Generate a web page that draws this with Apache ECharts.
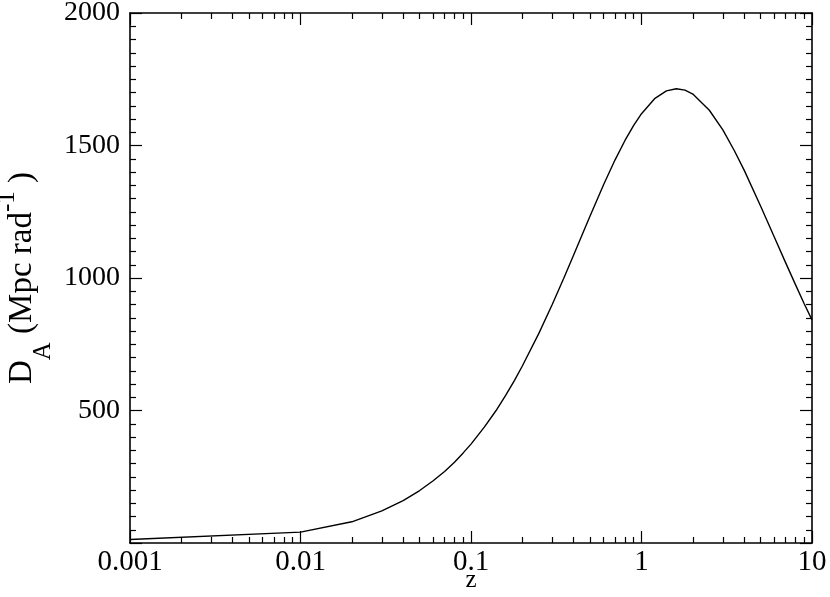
<!DOCTYPE html>
<html>
<head>
<meta charset="utf-8">
<script src="https://cdn.jsdelivr.net/npm/echarts@6/dist/echarts.min.js"></script>
<style>html,body{margin:0;padding:0;background:#fff;}#c{width:830px;height:597px;}</style>
</head>
<body>
<div id="c"></div>
<script>
// redshift z
const zValues = [0.001, 0.01, 0.02, 0.03, 0.04, 0.05, 0.06, 0.07, 0.08, 0.09, 0.1,
  0.12, 0.14, 0.16, 0.18, 0.2, 0.25, 0.3, 0.35, 0.4, 0.45, 0.5, 0.6, 0.7, 0.8, 0.9, 1.0,
  1.2, 1.4, 1.6, 1.8, 2.0, 2.5, 3.0, 3.5, 4, 5, 6, 7, 8, 9, 10];
// angular diameter distance D_A (Mpc rad^-1)
const daValues = [13, 41, 80, 121, 160, 198, 235, 270, 305, 340, 373,
  438, 499, 558, 614, 668, 791, 901, 999, 1087, 1165, 1235, 1353, 1446, 1519, 1576, 1620,
  1678, 1706, 1714, 1709, 1694, 1633, 1559, 1481, 1407, 1271, 1156, 1058, 975, 903, 842];
const xMajorTicks = [0.001, 0.01, 0.1, 1, 10];
const xMinorTicks = [0.002,0.003,0.004,0.005,0.006,0.007,0.008,0.009,
  0.02,0.03,0.04,0.05,0.06,0.07,0.08,0.09,
  0.2,0.3,0.4,0.5,0.6,0.7,0.8,0.9,
  2,3,4,5,6,7,8,9];
const yLabelValues = [500, 1000, 1500, 2000];

const FONT = 'Liberation Serif';
const chart = echarts.init(document.getElementById('c'), null, {renderer: 'canvas'});

function xAxisDef(position, minor, showLine, showLabel) {
  return {
    type: 'log', logBase: 10, min: 0.001, max: 10, gridIndex: 0, position: position,
    axisLine: {show: showLine, onZero: false, lineStyle: {color: '#000', width: 1.6}},
    axisTick: {show: true, inside: true, length: minor ? 6 : 12,
      customValues: minor ? xMinorTicks : xMajorTicks,
      lineStyle: {color: '#000', width: 1.2}},
    axisLabel: {show: showLabel, customValues: xMajorTicks, color: '#000',
      fontFamily: FONT, fontSize: 29, margin: 5,
      formatter: v => String(v)},
    splitLine: {show: false}, minorTick: {show: false}, minorSplitLine: {show: false}
  };
}
function yAxisDef(position, showLabel) {
  return {
    type: 'value', min: 0, max: 2000, interval: 500, position: position,
    axisLine: {show: true, onZero: false, lineStyle: {color: '#000', width: 1.6}},
    axisTick: {show: true, inside: true, length: 12, lineStyle: {color: '#000', width: 1.2}},
    minorTick: {show: true, splitNumber: 10, length: 6, lineStyle: {color: '#000', width: 1.2}},
    axisLabel: {show: showLabel, customValues: yLabelValues, color: '#000',
      fontFamily: FONT, fontSize: 28, margin: 10, formatter: v => String(v)},
    splitLine: {show: false}
  };
}

const xMain = xAxisDef('bottom', false, true, true);
xMain.name = 'z';
xMain.nameLocation = 'middle';
xMain.nameGap = 25;
xMain.nameMoveOverlap = false;
xMain.nameTextStyle = {color: '#000', fontFamily: FONT, fontSize: 25};

const yMain = yAxisDef('left', true);
yMain.name = '{b|D}{sub|A}{b| (Mpc rad}{sup|-1}{b| )}';
yMain.nameLocation = 'middle';
yMain.nameRotate = 90;
yMain.nameGap = 74;
yMain.nameMoveOverlap = false;
yMain.nameTextStyle = {
  color: '#000', fontFamily: FONT, fontSize: 33,
  rich: {
    b: {color: '#000', fontFamily: FONT, fontSize: 33},
    sub: {color: '#000', fontFamily: FONT, fontSize: 25, padding: [42, 0, 0, 0]},
    sup: {color: '#000', fontFamily: FONT, fontSize: 25, padding: [0, 0, 30, 0]}
  }
};

const option = {
  animation: false,
  backgroundColor: '#fff',
  grid: {left: 130, right: 18, top: 13, bottom: 54, containLabel: false, outerBoundsMode: 'none'},
  xAxis: [
    xMain,
    xAxisDef('bottom', true, false, false),
    xAxisDef('top', false, true, false),
    xAxisDef('top', true, false, false)
  ],
  yAxis: [
    yMain,
    yAxisDef('right', false)
  ],
  series: [{
    type: 'line', xAxisIndex: 0, yAxisIndex: 0,
    data: zValues.map((z, i) => [z, daValues[i]]),
    showSymbol: false, smooth: false,
    lineStyle: {color: '#000', width: 1.4},
    clip: true
  }]
};
chart.setOption(option);
</script>
</body>
</html>
